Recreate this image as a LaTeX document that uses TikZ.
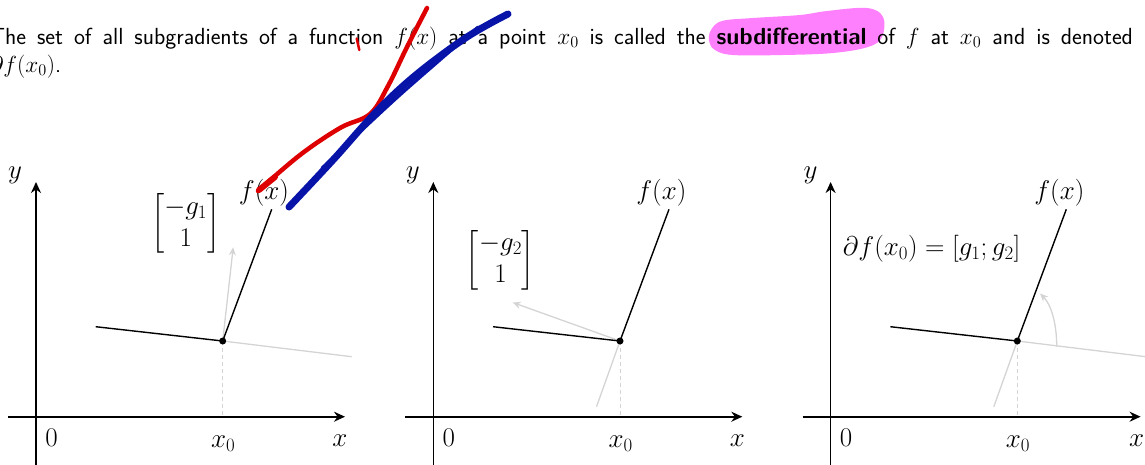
\RequirePackage{fix-cm}
\documentclass[tikz,border=0pt]{standalone}
\usepackage{amsmath}
\usetikzlibrary{arrows.meta}
\definecolor{lgray}{RGB}{212,212,212}
\definecolor{hlpink}{RGB}{255,128,252}
\definecolor{penred}{RGB}{222,0,0}
\definecolor{penblue}{RGB}{8,20,168}
\begin{document}
\begin{tikzpicture}[x=1pt,y=-1pt,
  font=\fontsize{27}{32}\selectfont,
  axis/.style={line width=1.6pt,-{Stealth[length=11pt,width=10pt]}},
  fline/.style={line width=1.4pt},
  guide/.style={lgray,line width=1.3pt},
  garrow/.style={lgray,line width=1.3pt,-{Stealth[length=8pt,width=7pt]}},
  vdash/.style={lgray,line width=1pt,dash pattern=on 4pt off 3pt},
  dotnode/.style={circle,fill,inner sep=0pt,minimum size=7pt},
  lbl/.style={inner sep=0pt,anchor=base},
  txt/.style={inner sep=0pt,anchor=base west,font=\sffamily\fontsize{23.3}{28}\selectfont},
  pen/.style={line width=#1,line cap=round,line join=round}
]
\useasboundingbox (0,0) rectangle (1145,464);
\clip (0,0) rectangle (1145,464);

% highlight
\fill[hlpink] plot[smooth cycle,tension=0.6] coordinates {(711,30) (722,21) (753,18) (800,15) (827,11) (867,8) (883,17) (882,37) (868,47) (833,53) (783,55) (733,55) (715,50) (709,41)};

% text
\node[txt] (line1) at (-10,44) {\hbox to 1174.5pt{The set of all subgradients of a function $f(x)$ at a point $x_0$ is called the \textbf{subdifferential} of $f$ at $x_0$ and is denoted by}};
\node[txt] (line2) at (-10,72) {$\partial f(x_0)$.};

% ---------- panel 1
\begin{scope}
\coordinate (XAs1) at (8,416.7); \coordinate (XAe1) at (345,416.7);
\coordinate (YAs1) at (36,470); \coordinate (YAe1) at (36,182);
\coordinate (P1) at (222.7,341);
\coordinate (L1) at (95.7,326.7);
\coordinate (T1) at (271.7,209.3);
\coordinate (E1) at (351.7,356.7);
\coordinate (N1) at (233.2,247.3);
\coordinate (B1) at (222.7,416.7);
\draw[axis] (XAs1) -- (XAe1);
\draw[axis] (YAs1) -- (YAe1);
\draw[vdash] (P1) -- (B1);
\draw[guide] (P1) -- (E1);
\draw[garrow] (P1) -- (N1);
\draw[fline] (L1) -- (P1) -- (T1);
\node[dotnode] (d1) at (P1) {};
\node[lbl] (y1) at (15,178.5) {$y$};
\node[lbl] (z1) at (51.5,446.7) {$0$};
\node[lbl] (xz1) at (223.3,447) {$x_0$};
\node[lbl] (x1) at (340,446.7) {$x$};
\node[lbl] (f1) at (264,199.2) {$f(x)$};
\node[inner sep=0pt] (m1) at (185.7,223.7) {$\begin{bmatrix}-g_1\\1\end{bmatrix}$};
\end{scope}

% ---------- panel 2
\begin{scope}[shift={(397.3,0)}]
\coordinate (XAs2) at (8,416.7); \coordinate (XAe2) at (345,416.7);
\coordinate (YAs2) at (36,470); \coordinate (YAe2) at (36,182);
\coordinate (P2) at (222.7,341);
\coordinate (L2) at (95.7,326.7);
\coordinate (T2) at (271.7,209.3);
\coordinate (D2) at (199.2,406.7);
\coordinate (N2) at (115.4,302.5);
\coordinate (B2) at (222.7,416.7);
\draw[axis] (XAs2) -- (XAe2);
\draw[axis] (YAs2) -- (YAe2);
\draw[vdash] (P2) -- (B2);
\draw[guide] (P2) -- (D2);
\draw[garrow] (P2) -- (N2);
\draw[fline] (L2) -- (P2) -- (T2);
\node[dotnode] (d2) at (P2) {};
\node[lbl] (y2) at (15.5,178.5) {$y$};
\node[lbl] (z2) at (51.5,446.7) {$0$};
\node[lbl] (xz2) at (223.3,447) {$x_0$};
\node[lbl] (x2) at (340,446.7) {$x$};
\node[lbl] (f2) at (264,199.2) {$f(x)$};
\node[inner sep=0pt] (m2) at (103.2,260) {$\begin{bmatrix}-g_2\\1\end{bmatrix}$};
\end{scope}

% ---------- panel 3
\begin{scope}[shift={(794.6,0)}]
\coordinate (XAs3) at (8,416.7); \coordinate (XAe3) at (346,416.7);
\coordinate (YAs3) at (36,470); \coordinate (YAe3) at (36,182);
\coordinate (P3) at (222.7,341);
\coordinate (L3) at (95.7,326.7);
\coordinate (T3) at (271.7,209.3);
\coordinate (E3) at (370,359);
\coordinate (D3) at (199.2,406.7);
\coordinate (B3) at (222.7,416.7);
\coordinate (As3) at (262.1,346.5);
\coordinate (Ae3) at (245.4,293.5);
\draw[axis] (XAs3) -- (XAe3);
\draw[axis] (YAs3) -- (YAe3);
\draw[vdash] (P3) -- (B3);
\draw[guide] (P3) -- (E3);
\draw[guide] (P3) -- (D3);
\draw[garrow] (As3) .. controls (262.1,322) and (256,304) .. (Ae3);
\draw[fline] (L3) -- (P3) -- (T3);
\node[dotnode] (d3) at (P3) {};
\node[lbl] (y3) at (16,178.5) {$y$};
\node[lbl] (z3) at (51.5,446.7) {$0$};
\node[lbl] (xz3) at (223.3,447) {$x_0$};
\node[lbl] (x3) at (342,446.7) {$x$};
\node[lbl] (f3) at (264.7,199.2) {$f(x)$};
\node[lbl] (sd3) at (137.1,255.9) {$\partial f(x_0)=[g_1;g_2]$};
\end{scope}

% ---------- pen strokes
\draw[penred,pen=4.5pt] plot[smooth,tension=0.6] coordinates {(258,191) (300,155) (340,128) (370,114) (388,86) (407,47) (427,8)};
\draw[penred,pen=6pt] (259,190) -- (275,177);
\draw[penred,pen=2.5pt] (356.7,38.5) -- (359.3,50);
\draw[penblue,pen=7pt] plot[smooth,tension=0.6] coordinates {(289,207) (333,160) (377,111) (417,74) (467,37) (508,14)};
\draw[penblue,pen=3pt] plot[smooth,tension=0.6] coordinates {(322,168) (360,132) (400,95) (440,60) (478,27)};
\end{tikzpicture}
\end{document}
